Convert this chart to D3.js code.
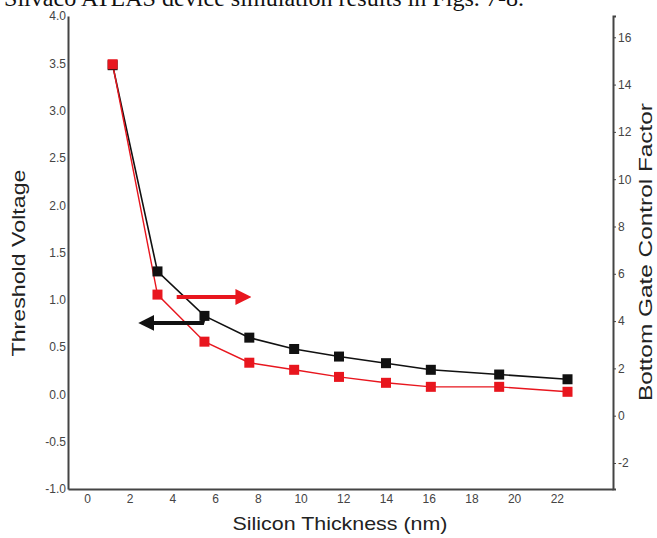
<!DOCTYPE html>
<html>
<head>
<meta charset="utf-8">
<script src="https://cdn.jsdelivr.net/npm/d3@7"></script>
<style>
  body { margin: 0; background: #fff; }
  svg { display: block; }
  .tick text { font-family: "Liberation Sans", Arial, sans-serif; font-size: 12px; fill: #444; }
  .axis path, .axis line { stroke: #444; }
</style>
</head>
<body>
<div id="chart"></div>
<script>
// values
const thickness = [1.2, 3.3, 5.5, 7.6, 9.7, 11.8, 14.0, 16.1, 19.3, 22.5]
const thresholdVoltage = [3.48, 1.30, 0.83, 0.60, 0.48, 0.40, 0.33, 0.26, 0.21, 0.16]
const gateFactor = [14.86, 5.12, 3.13, 2.24, 1.94, 1.64, 1.39, 1.22, 1.22, 1.01]

const xTicks = d3.range(0, 23, 2)
const leftTicks = d3.range(-1, 4.01, 0.5)
const rightTicks = d3.range(-2, 17, 2)

const width = 657, height = 538
const plot = {left: 68, right: 613, top: 16, bottom: 489}

const svg = d3.select("#chart").append("svg")
    .attr("width", width)
    .attr("height", height)

// caption cut at the top of the scan
svg.append("text")
    .attr("x", 4)
    .attr("y", 6)
    .attr("textLength", 520)
    .attr("lengthAdjust", "spacingAndGlyphs")
    .style("font-family", "'Liberation Serif', 'Times New Roman', serif")
    .style("font-size", "24px")
    .attr("fill", "#111")
    .text("Silvaco ATLAS device simulation results in Figs. 7-8.")

const x = d3.scaleLinear().domain([-0.89, 24.63]).range([plot.left, plot.right])
const yLeft = d3.scaleLinear().domain([-1, 4]).range([plot.bottom, plot.top])
const yRight = d3.scaleLinear().domain([-3.1, 16.9]).range([plot.bottom, plot.top])

const hyphen = f => d => f(d).replace("\u2212", "-")

svg.append("g")
    .attr("class", "axis")
    .attr("transform", `translate(0, ${plot.bottom})`)
    .call(d3.axisBottom(x).tickValues(xTicks).tickFormat(d3.format("d")).tickSize(0).tickPadding(5))
    .call(g => g.select(".domain").attr("stroke-width", 2))

svg.append("g")
    .attr("class", "axis")
    .attr("transform", `translate(${plot.left}, 0)`)
    .call(d3.axisLeft(yLeft).tickValues(leftTicks).tickFormat(hyphen(d3.format(".1f"))).tickSize(0).tickPadding(2))
    .call(g => g.select(".domain").attr("stroke-width", 2))

svg.append("g")
    .attr("class", "axis")
    .attr("transform", `translate(${plot.right}, 0)`)
    .call(d3.axisRight(yRight).tickValues(rightTicks).tickFormat(hyphen(d3.format("d"))).tickSize(3).tickPadding(2))
    .call(g => g.select(".domain").attr("stroke-width", 2))

// axis titles
const titleFont = "'Liberation Sans', Arial, sans-serif"
svg.append("text")
    .attr("transform", `translate(25, 263) rotate(-90)`)
    .attr("text-anchor", "middle")
    .attr("textLength", 187)
    .attr("lengthAdjust", "spacingAndGlyphs")
    .style("font-family", titleFont)
    .style("font-size", "19px")
    .attr("fill", "#222")
    .text("Threshold Voltage")

svg.append("text")
    .attr("transform", `translate(652, 252) rotate(-90)`)
    .attr("text-anchor", "middle")
    .attr("textLength", 298)
    .attr("lengthAdjust", "spacingAndGlyphs")
    .style("font-family", titleFont)
    .style("font-size", "19px")
    .attr("fill", "#222")
    .text("Bottom Gate Control Factor")

svg.append("text")
    .attr("x", 340)
    .attr("y", 530)
    .attr("text-anchor", "middle")
    .attr("textLength", 215)
    .attr("lengthAdjust", "spacingAndGlyphs")
    .style("font-family", titleFont)
    .style("font-size", "19px")
    .attr("fill", "#222")
    .text("Silicon Thickness (nm)")

// series
const black = "#111", red = "#e8161e"
const blackData = thickness.map((t, i) => ({x: t, y: thresholdVoltage[i]}))
const redData = thickness.map((t, i) => ({x: t, y: gateFactor[i]}))

svg.append("path")
    .datum(blackData)
    .attr("fill", "none")
    .attr("stroke", black)
    .attr("stroke-width", 1.6)
    .attr("d", d3.line().x(d => x(d.x)).y(d => yLeft(d.y)))

svg.append("path")
    .datum(redData)
    .attr("fill", "none")
    .attr("stroke", red)
    .attr("stroke-width", 1.4)
    .attr("d", d3.line().x(d => x(d.x)).y(d => yRight(d.y)))

const size = 10
svg.append("g").selectAll("rect")
    .data(blackData)
    .join("rect")
    .attr("x", d => x(d.x) - size / 2)
    .attr("y", d => yLeft(d.y) - size / 2)
    .attr("width", size)
    .attr("height", size)
    .attr("fill", black)

svg.append("g").selectAll("rect")
    .data(redData)
    .join("rect")
    .attr("x", d => x(d.x) - size / 2)
    .attr("y", d => yRight(d.y) - size / 2)
    .attr("width", size)
    .attr("height", size)
    .attr("fill", red)

// arrows telling which axis each curve belongs to
const defs = svg.append("defs")
function head(id, colour) {
    defs.append("marker")
        .attr("id", id)
        .attr("viewBox", "0 0 10 10")
        .attr("refX", 2)
        .attr("refY", 5)
        .attr("markerWidth", 4)
        .attr("markerHeight", 4)
        .attr("orient", "auto")
      .append("path")
        .attr("d", "M0,0 L10,5 L0,10 Z")
        .attr("fill", colour)
}
head("head-red", red)
head("head-black", black)

svg.append("line")
    .attr("x1", x(4.2)).attr("x2", x(7.1))
    .attr("y1", yLeft(1.03)).attr("y2", yLeft(1.03))
    .attr("stroke", red)
    .attr("stroke-width", 4)
    .attr("marker-end", "url(#head-red)")

svg.append("path")
    .attr("d", `M${x(5.5)},${yLeft(0.83)} L${x(5.4)},${yLeft(0.755)} L${x(3.0)},${yLeft(0.755)}`)
    .attr("fill", "none")
    .attr("stroke", black)
    .attr("stroke-width", 4)
    .attr("marker-end", "url(#head-black)")
</script>
</body>
</html>
